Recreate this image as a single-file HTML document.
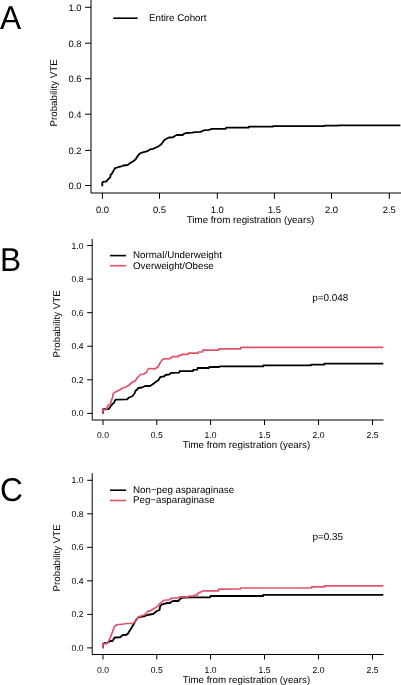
<!DOCTYPE html><html><head><meta charset="utf-8"><style>html,body{margin:0;padding:0;background:#fff;width:401px;height:685px;overflow:hidden}svg{display:block;will-change:transform}text{font-family:"Liberation Sans",sans-serif;fill:#000;text-rendering:geometricPrecision}</style></head><body>
<svg width="401" height="685" viewBox="0 0 401 685">
<text transform="translate(0 28.8) scale(0.96 1)" font-size="33">A</text>
<path d="M91 0 V193 H401" fill="none" stroke="#000" stroke-width="1"/>
<text x="81.6" y="188.8" font-size="9.4" text-anchor="end">0.0</text>
<text x="81.6" y="153.7" font-size="9.4" text-anchor="end">0.2</text>
<text x="81.6" y="117.5" font-size="9.4" text-anchor="end">0.4</text>
<text x="81.6" y="82.05" font-size="9.4" text-anchor="end">0.6</text>
<text x="81.6" y="46.5" font-size="9.4" text-anchor="end">0.8</text>
<text x="81.6" y="10.6" font-size="9.4" text-anchor="end">1.0</text>
<text x="102.4" y="212.6" font-size="9.4" text-anchor="middle">0.0</text>
<text x="159.5" y="212.6" font-size="9.4" text-anchor="middle">0.5</text>
<text x="217.3" y="212.6" font-size="9.4" text-anchor="middle">1.0</text>
<text x="274.4" y="212.6" font-size="9.4" text-anchor="middle">1.5</text>
<text x="331.5" y="212.6" font-size="9.4" text-anchor="middle">2.0</text>
<text x="389.3" y="212.6" font-size="9.4" text-anchor="middle">2.5</text>
<path d="M91 185.5 H85.1 M91 150.4 H85.1 M91 114.2 H85.1 M91 78.75 H85.1 M91 43.2 H85.1 M91 7.3 H85.1 M102.4 193 V198.9 M159.5 193 V198.9 M217.3 193 V198.9 M274.4 193 V198.9 M331.5 193 V198.9 M389.3 193 V198.9" fill="none" stroke="#000" stroke-width="1"/>
<text x="250.5" y="222.6" font-size="9.75" text-anchor="middle">Time from registration (years)</text>
<text transform="translate(56.6 92.9) rotate(-90)" font-size="9.75" text-anchor="middle">Probability VTE</text>
<path d="M113.2 18.2 H137.6" stroke="#000" stroke-width="1.6"/>
<text x="149" y="21.1" font-size="9.75">Entire Cohort</text>
<path d="M102.3 186.3 L102.3 182.4 L103.4 181.7 L106.4 181.5 L107.6 179.8 L109.1 178.3 L110.3 177.1 L110.6 175 L111.8 173.8 L113 171.7 L113.9 169.9 L115.1 168.1 L117.2 167.5 L119 166.9 L121.4 166.3 L123.2 165.5 L127.7 165 L130.3 162.9 L133.7 161 L136 158.8 L137.8 155.8 L139.7 153.6 L142.7 152.4 L145.7 151.7 L147.9 150.8 L150.5 149.2 L153 148.8 L156 147.5 L159 146 L161.5 144 L163 142 L164 140.2 L166 139 L169 137.5 L173 137.3 L175.2 135.7 L176.7 135 L182.7 135 L184.2 133.7 L186.5 133 L192.5 132.7 L194.7 132.2 L200.7 131.9 L203 130.7 L205.2 130.1 L209.7 129.8 L211.2 128.9 L225.8 128.9 L226.1 127.6 L248.8 127.6 L248.8 126.6 L273 126.6 L273 126.1 L324.3 126.1 L324.3 125.6 L338.3 125.6 L338.3 125.4 L400.4 125.4" fill="none" stroke="#000" stroke-width="1.8" stroke-linejoin="round"/>
<text transform="translate(0 271) scale(0.96 1)" font-size="33">B</text>
<path d="M92.2 239 V420 H383.5" fill="none" stroke="#000" stroke-width="1"/>
<text x="83.55" y="416.4" font-size="8.6" text-anchor="end">0.0</text>
<text x="83.55" y="382.82" font-size="8.6" text-anchor="end">0.2</text>
<text x="83.55" y="349.24" font-size="8.6" text-anchor="end">0.4</text>
<text x="83.55" y="315.66" font-size="8.6" text-anchor="end">0.6</text>
<text x="83.55" y="282.08" font-size="8.6" text-anchor="end">0.8</text>
<text x="83.55" y="248.5" font-size="8.6" text-anchor="end">1.0</text>
<text x="103" y="437.9" font-size="8.6" text-anchor="middle">0.0</text>
<text x="156.8" y="437.9" font-size="8.6" text-anchor="middle">0.5</text>
<text x="210.6" y="437.9" font-size="8.6" text-anchor="middle">1.0</text>
<text x="264.5" y="437.9" font-size="8.6" text-anchor="middle">1.5</text>
<text x="318.5" y="437.9" font-size="8.6" text-anchor="middle">2.0</text>
<text x="372.5" y="437.9" font-size="8.6" text-anchor="middle">2.5</text>
<path d="M92.2 413.4 H87.2 M92.2 379.82 H87.2 M92.2 346.24 H87.2 M92.2 312.66 H87.2 M92.2 279.08 H87.2 M92.2 245.5 H87.2 M103 420 V425 M156.8 420 V425 M210.6 420 V425 M264.5 420 V425 M318.5 420 V425 M372.5 420 V425" fill="none" stroke="#000" stroke-width="1"/>
<text x="246.4" y="448" font-size="9.75" text-anchor="middle">Time from registration (years)</text>
<text transform="translate(60.4 323.8) rotate(-90)" font-size="9.75" text-anchor="middle">Probability VTE</text>
<path d="M110 255.6 H126.1" stroke="#000" stroke-width="1.6"/>
<text x="133" y="258.3" font-size="9.75">Normal/Underweight</text>
<path d="M110 265.7 H126.1" stroke="#DF536B" stroke-width="1.6"/>
<text x="133" y="268.6" font-size="9.75">Overweight/Obese</text>
<text x="312.2" y="301.2" font-size="9.95">p=0.048</text>
<path d="M103 413.9 L103 409.2 L108.3 409.2 L109.5 408 L110.5 406.5 L111.75 405 L112.5 403.75 L113.75 403.25 L114.5 401.5 L115.5 399.6 L127 399.4 L129 397.5 L132 396.5 L134.5 393.5 L135.5 391 L137.5 389 L138.5 388 L142 387.5 L145 386 L150 386 L152.5 384.5 L155 382.5 L158.5 380 L160.5 376.8 L164 376.5 L165.5 375 L169 374.5 L171.2 372.9 L179.3 372.7 L179.6 371.1 L192.8 371.1 L193.2 369.9 L197.2 369.7 L197.6 368 L209 368 L209.3 367 L219.2 367 L219.5 366.4 L263.3 366.4 L263.3 365.3 L311.3 365.3 L311.3 364.6 L324.4 364.6 L324.4 363.7 L383.3 363.7" fill="none" stroke="#000" stroke-width="1.8" stroke-linejoin="round"/>
<path d="M102.75 413.9 L102.75 410 L103.25 409.5 L105.5 410 L107 408.5 L107.5 406 L108.75 405 L110 404.5 L110.75 402.5 L111.25 400.5 L112 399 L112.75 397 L113 394 L114.5 392.5 L117.5 391 L120.5 389.5 L122.5 388 L126 387 L129 385 L132 382.5 L133.5 381.5 L135.5 381 L136 379.5 L137.5 377.5 L139.5 375.5 L140.5 374.5 L144 374 L146.5 372.5 L148 369 L150 368.5 L155 368.8 L158 367 L160 363 L162.5 359.5 L164 358.8 L170 358.7 L171.5 357.2 L173 356.6 L178.5 356.6 L178.8 355.4 L181.5 355.2 L181.8 354.3 L188.3 354.3 L188.6 353.2 L198 353.2 L198.3 352 L202.5 351.8 L202.8 350.2 L218.5 350.2 L218.8 348.8 L240.7 348.8 L240.7 347.4 L383.3 347.4" fill="none" stroke="#DF536B" stroke-width="1.7" stroke-linejoin="round"/>
<text transform="translate(0 500.6) scale(0.96 1)" font-size="33">C</text>
<path d="M92.2 473.2 V654.5 H383.5" fill="none" stroke="#000" stroke-width="1"/>
<text x="83.55" y="650.9" font-size="8.6" text-anchor="end">0.0</text>
<text x="83.55" y="617.38" font-size="8.6" text-anchor="end">0.2</text>
<text x="83.55" y="583.86" font-size="8.6" text-anchor="end">0.4</text>
<text x="83.55" y="550.34" font-size="8.6" text-anchor="end">0.6</text>
<text x="83.55" y="516.82" font-size="8.6" text-anchor="end">0.8</text>
<text x="83.55" y="483.3" font-size="8.6" text-anchor="end">1.0</text>
<text x="103" y="672.5" font-size="8.6" text-anchor="middle">0.0</text>
<text x="156.8" y="672.5" font-size="8.6" text-anchor="middle">0.5</text>
<text x="210.6" y="672.5" font-size="8.6" text-anchor="middle">1.0</text>
<text x="264.5" y="672.5" font-size="8.6" text-anchor="middle">1.5</text>
<text x="318.5" y="672.5" font-size="8.6" text-anchor="middle">2.0</text>
<text x="372.5" y="672.5" font-size="8.6" text-anchor="middle">2.5</text>
<path d="M92.2 647.9 H87.2 M92.2 614.38 H87.2 M92.2 580.86 H87.2 M92.2 547.34 H87.2 M92.2 513.82 H87.2 M92.2 480.3 H87.2 M103 654.5 V659.5 M156.8 654.5 V659.5 M210.6 654.5 V659.5 M264.5 654.5 V659.5 M318.5 654.5 V659.5 M372.5 654.5 V659.5" fill="none" stroke="#000" stroke-width="1"/>
<text x="246.4" y="683" font-size="9.75" text-anchor="middle">Time from registration (years)</text>
<text transform="translate(60.4 557.8) rotate(-90)" font-size="9.75" text-anchor="middle">Probability VTE</text>
<path d="M110 490.2 H126.1" stroke="#000" stroke-width="1.6"/>
<text x="133" y="492.8" font-size="9.75">Non−peg asparaginase</text>
<path d="M110 500.5 H126.1" stroke="#DF536B" stroke-width="1.6"/>
<text x="133" y="502.8" font-size="9.75">Peg−asparaginase</text>
<text x="312.4" y="539.5" font-size="9.95">p=0.35</text>
<path d="M103 648.3 L103 644 L104.5 643 L106.5 643 L109 642 L110 641 L112.5 641 L114 638.5 L115 637.5 L120 637.4 L121.5 636 L123 635 L126.5 634.8 L128 633.5 L130 630.3 L132 627 L134 623.5 L136 620 L138.3 617.3 L141 616.8 L145 616 L147.5 615 L150 614.5 L153 614 L155 612.5 L157 611 L159.5 610 L160 607 L161 605 L163 604.2 L165 603.5 L168 603 L170 603 L171.5 601.7 L173 601 L178.6 601 L179.7 599.2 L181.2 598.3 L182.7 597.7 L192.5 597.4 L210.2 597.4 L210.5 596 L263.2 596 L263.2 594.9 L383.3 594.9" fill="none" stroke="#000" stroke-width="1.8" stroke-linejoin="round"/>
<path d="M102.9 648.3 L102.9 644.5 L104.5 643.5 L106.3 643.8 L108 642 L109.5 639.5 L110.5 637 L111.5 634.5 L112.5 632 L113.5 629 L114.5 626.6 L116 625.1 L119 624.5 L124 624 L126 623.5 L133 623.5 L134.5 622 L136 620 L138 617.5 L139.5 616.3 L141 616 L144 615 L146 613.5 L148 611.2 L150.5 610.8 L152.5 609.5 L154 608.5 L156.5 607.2 L158.5 605.5 L159.5 603.8 L161.5 602.5 L163.5 600.5 L166 600 L169 600 L171.5 598.3 L173 598 L179 597.9 L179.4 596.9 L188.6 596.9 L189 596.2 L193.8 596 L194.2 595 L197.3 595 L198.4 592.9 L200.7 592.1 L202.2 591.3 L203.8 590.8 L218.5 590.8 L218.8 589.2 L240.7 589 L240.7 588 L311.5 588 L311.5 586.9 L324.5 586.9 L324.5 585.9 L383.3 585.9" fill="none" stroke="#DF536B" stroke-width="1.7" stroke-linejoin="round"/>
</svg></body></html>
